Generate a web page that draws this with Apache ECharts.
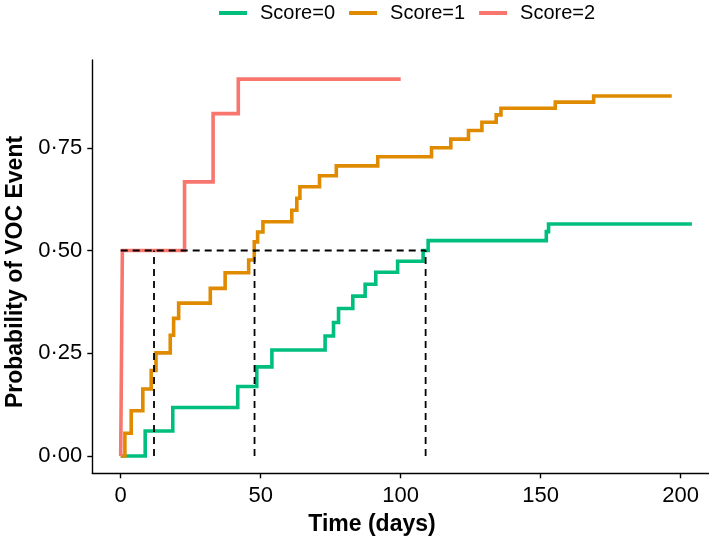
<!DOCTYPE html>
<html><head><meta charset="utf-8">
<script src="https://cdn.jsdelivr.net/npm/echarts@6/dist/echarts.min.js"></script>
<style>html,body{margin:0;padding:0;background:#fff}#c{width:709px;height:546px}</style>
</head><body><div id="c"></div>
<script>
const seriesNames = ['Score=0', 'Score=1', 'Score=2'];
const seriesColors = ['#00BF7D', '#E08A00', '#F8766D'];

const score0Time = [0, 8.75, 18.6, 41.8, 48.6, 54, 73, 76, 77.8, 82.9, 87.3, 91.1, 98.9, 108, 109.8, 152, 152.8, 204];
const score0Prob = [0, 0.061, 0.118, 0.169, 0.217, 0.258, 0.292, 0.325, 0.359, 0.389, 0.418, 0.447, 0.474, 0.500, 0.524, 0.546, 0.5645, 0.5645];

const score1Time = [0, 1.5, 3.75, 7.9, 10.9, 12.6, 17.7, 18.9, 20.7, 32, 37.3, 45.7, 47.7, 48.9, 50.8, 61.1, 62.9, 64, 71, 77, 91.8, 111, 117.9, 124.2, 129, 134.1, 135.8, 155.2, 168.9, 196.8];
const score1Prob = [0, 0.0556, 0.110, 0.163, 0.208, 0.251, 0.294, 0.335, 0.372, 0.408, 0.446, 0.477, 0.521, 0.545, 0.570, 0.598, 0.627, 0.655, 0.682, 0.706, 0.728, 0.750, 0.771, 0.792, 0.812, 0.830, 0.846, 0.861, 0.876, 0.876];

const score2Time = [0, 0.6, 22.8, 33, 42, 100];
const score2Prob = [0, 0.5, 0.667, 0.833, 0.917, 0.917];

const medianTimes = [11.9, 47.8, 108.9];
const medianProb = 0.5;

const xTicks = [0, 50, 100, 150, 200];
const yTicks = [0, 0.25, 0.5, 0.75];
const yTickLabels = ['0·00', '0·25', '0·50', '0·75'];

const FONT = 'Liberation Sans, Arial, Helvetica, sans-serif';
const zip = (t, p) => t.map((v, i) => [v, p[i]]);
const curves = [zip(score0Time, score0Prob), zip(score1Time, score1Prob), zip(score2Time, score2Prob)];

const series = curves.map((d, i) => ({
  name: seriesNames[i], type: 'line', step: 'end', data: d, showSymbol: false, symbol: 'none',
  lineStyle: { color: seriesColors[i], width: 3.6, cap: 'butt', join: 'miter' },
  itemStyle: { color: seriesColors[i] }, z: 2 + i, silent: true, animation: false
}));

const dashStyle = { color: '#000', width: 1.8, type: [7, 5] };
const maxMedian = Math.max(...medianTimes);
series.push({ type: 'line', data: [[0, medianProb], [maxMedian, medianProb]], symbol: 'none', lineStyle: dashStyle, z: 10, silent: true, animation: false });
medianTimes.forEach(t => {
  series.push({ type: 'line', data: [[t, 0], [t, medianProb]], symbol: 'none', lineStyle: dashStyle, z: 10, silent: true, animation: false });
});

const chart = echarts.init(document.getElementById('c'), null, { renderer: 'canvas' });
chart.setOption({
  backgroundColor: '#fff',
  animation: false,
  legend: {
    data: seriesNames, left: 219, top: 3, padding: 0, icon: 'rect', itemWidth: 28, itemHeight: 4, itemGap: 14,
    textStyle: { fontFamily: FONT, fontSize: 20, color: '#000', padding: [0, 0, 0, 8] }
  },
  grid: { left: 92.3, right: 0, top: 60, bottom: 72.7 },
  xAxis: {
    type: 'value', min: -10.14, max: 210.1,
    axisLine: { show: true, onZero: false, lineStyle: { color: '#000', width: 1.4 } },
    axisTick: { show: true, customValues: xTicks, length: 5, lineStyle: { color: '#000', width: 1.4 } },
    axisLabel: { customValues: xTicks, margin: 12, fontFamily: FONT, fontSize: 22, color: '#000' },
    splitLine: { show: false }
  },
  yAxis: {
    type: 'value', min: -0.042, max: 0.9635,
    axisLine: { show: true, onZero: false, lineStyle: { color: '#000', width: 1.4 } },
    axisTick: { show: true, customValues: yTicks, length: 5, lineStyle: { color: '#000', width: 1.4 } },
    axisLabel: { customValues: yTicks, margin: 10, fontFamily: FONT, fontSize: 22, color: '#000',
      formatter: v => yTickLabels[yTicks.indexOf(v)] !== undefined ? yTickLabels[yTicks.indexOf(v)] : '' },
    splitLine: { show: false }
  },
  graphic: [{
    type: 'text', x: 372, y: 525,
    style: { text: 'Time (days)', fontFamily: FONT, fontSize: 23, fontWeight: 'bold', fill: '#000', align: 'center', verticalAlign: 'middle' }
  }, {
    type: 'text', x: 16, y: 272, rotation: Math.PI / 2,
    style: { text: 'Probability of VOC Event', fontFamily: FONT, fontSize: 23, fontWeight: 'bold', fill: '#000', align: 'center', verticalAlign: 'middle' }
  }],
  series: series
});
</script></body></html>
